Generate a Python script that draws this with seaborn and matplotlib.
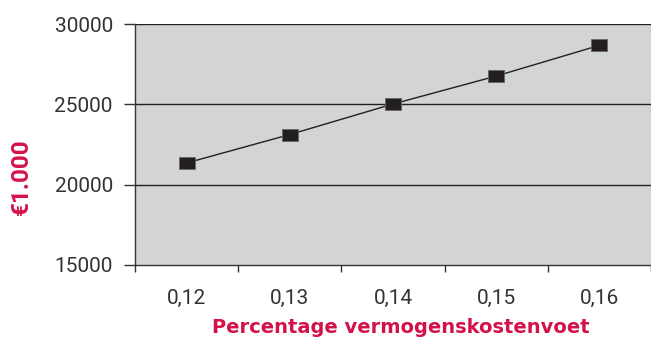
import numpy as np
import pandas as pd
import matplotlib
matplotlib.use("Agg")
import matplotlib.pyplot as plt
import seaborn as sns

# Cost-of-capital percentages and resulting value (x €1.000)
rates = ["0,12", "0,13", "0,14", "0,15", "0,16"]
values = [21350, 23120, 25020, 26760, 28670]
y_ticks = [15000, 20000, 25000, 30000]

df = pd.DataFrame({"rate": rates, "value": values})

sns.set_theme(style="white")
plt.rcParams["font.family"] = ["Roboto", "DejaVu Sans"]

RED = "#d4124a"
PANEL = "#d3d4d6"
INK = "#231f20"

fig = plt.figure(figsize=(6.51, 3.38), dpi=100)
ax = fig.add_axes([135 / 651, 73 / 338, 516 / 651, 241 / 338])
ax.set_facecolor(PANEL)

# slightly wide rectangular marker
rect = [(-1, -0.76), (1, -0.76), (1, 0.76), (-1, 0.76), (-1, -0.76)]

sns.pointplot(data=df, x="rate", y="value", ax=ax, color=INK,
              markers=rect, linestyles="-", markersize=12, linewidth=1.0,
              errorbar=None, zorder=5)
for coll in ax.collections:
    coll.set_edgecolor("#555555")
for line in ax.lines:
    line.set_markeredgecolor("#666666")
    line.set_markeredgewidth(0.6)

ax.set_ylim(15000, 30000)
ax.set_xlim(-0.5, 4.46)
ax.set_yticks(y_ticks)
ax.set_yticklabels([str(v) for v in y_ticks])

# horizontal gridlines
for v in y_ticks[1:]:
    ax.axhline(v, color=INK, lw=1.0, zorder=1)

# category boundaries as tick marks, labels at category centres
ax.set_xticks(range(len(rates)))
ax.set_xticklabels(rates)
ax.set_xticks(np.arange(-0.5, len(rates), 1.0), minor=True)
ax.tick_params(axis="x", which="major", length=0, pad=17,
               labelsize=15, labelcolor="#333333")
ax.tick_params(axis="x", which="minor", length=5, width=1.0,
               color="#333333", direction="out", bottom=True)
ax.tick_params(axis="y", length=8, width=1.0, color="#333333",
               direction="out", left=True, pad=8, labelsize=15,
               labelcolor="#333333")

for side in ["top", "right"]:
    ax.spines[side].set_visible(False)
for side in ["left", "bottom"]:
    ax.spines[side].set_color("#333333")
    ax.spines[side].set_linewidth(1.0)

ax.set_xlabel("Percentage vermogenskostenvoet", color=RED,
              fontsize=14, fontweight="bold", va="center",
              family=["DejaVu Sans"])
ax.xaxis.set_label_coords(0.5155, -0.26)
ax.set_ylabel("€1.000", color=RED, fontsize=17.5, fontweight="bold",
              va="center")
ax.yaxis.set_label_coords(-114 / 516, 0.365)

fig.savefig("out.png", dpi=100)
